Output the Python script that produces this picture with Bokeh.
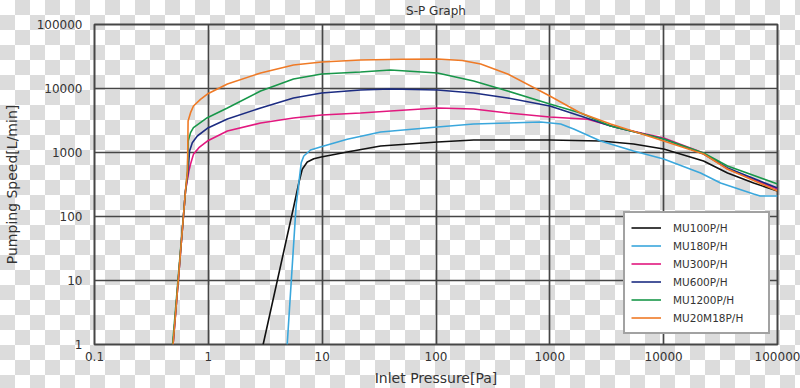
from bokeh.plotting import figure
from bokeh.models import FixedTicker, PrintfTickFormatter, Legend, LegendItem, LogAxis
from bokeh.embed import file_html
from bokeh.resources import INLINE

# ---- data ----
title_text = "S-P Graph"
x_ticks = [0.1, 1, 10, 100, 1000, 10000, 100000]
y_ticks = [1, 10, 100, 1000, 10000, 100000]

mu100_p = [3.03, 5.64, 6.24, 6.68, 7.40, 8.45, 9.8, 16.6, 32.6, 103, 214, 426, 1000, 2790, 5440, 10000, 22400, 36400, 61700, 100000]
mu100_s = [1, 146, 337, 546, 711, 800, 851, 1018, 1265, 1460, 1570, 1570, 1570, 1510, 1360, 1135, 736, 479, 334, 250]

mu180_p = [4.93, 5.9, 6.24, 6.55, 6.90, 7.9, 9.8, 16.6, 32.6, 103, 214, 426, 832, 1245, 1620, 2790, 5440, 10000, 21100, 31600, 61700, 70500, 100000]
mu180_s = [1, 146, 337, 694, 881, 1094, 1233, 1607, 2090, 2500, 2790, 2890, 3000, 2790, 2330, 1510, 1055, 790, 479, 334, 225, 209, 209]

mu300_p = [0.49, 0.63, 0.675, 0.698, 0.74, 0.826, 0.98, 1.47, 2.88, 5.6, 9.9, 21.7, 39.8, 103, 214, 426, 1000, 2150, 3940, 10000, 22400, 36400, 100000]
mu300_s = [1, 250, 515, 660, 935, 1190, 1510, 2170, 2890, 3460, 3850, 4140, 4450, 4960, 4790, 4140, 3590, 3300, 2440, 1690, 980, 552, 269]

mu600_p = [0.49, 0.63, 0.665, 0.684, 0.723, 0.80, 0.98, 1.47, 2.88, 5.6, 9.9, 21.7, 39.8, 103, 214, 426, 1000, 1860, 3420, 10000, 22400, 36400, 100000]
mu600_s = [1, 250, 515, 1055, 1420, 1810, 2390, 3340, 4960, 7110, 8510, 9480, 9820, 9480, 8510, 7110, 5330, 3720, 2600, 1625, 948, 573, 279]

mu1200_p = [0.485, 0.63, 0.656, 0.665, 0.698, 0.74, 0.98, 1.47, 2.88, 5.6, 9.9, 21.7, 39.8, 103, 214, 426, 1000, 1860, 3420, 10000, 22400, 36400, 100000]
mu1200_s = [1, 250, 515, 1510, 2045, 2445, 3500, 4960, 9140, 14060, 16870, 18100, 19450, 17470, 13100, 9140, 5730, 4140, 2600, 1625, 980, 615, 322]

mu20m_p = [0.49, 0.63, 0.656, 0.664, 0.698, 0.74, 0.853, 0.98, 1.47, 2.88, 5.6, 9.9, 21.7, 50, 103, 170, 247, 426, 1000, 1860, 3420, 10000, 22400, 36400, 100000]
mu20m_s = [1, 250, 515, 3100, 4190, 5330, 6780, 8200, 11750, 17470, 23300, 25900, 27900, 28600, 28900, 27400, 24150, 16870, 7640, 4140, 2790, 1510, 948, 552, 250]

series_names = ["MU100P/H", "MU180P/H", "MU300P/H", "MU600P/H", "MU1200P/H", "MU20M18P/H"]
series_colors = ["#111111", "#3aa7dc", "#e2187f", "#1c2c82", "#18974a", "#ef7a26"]
series_data = [(mu100_p, mu100_s), (mu180_p, mu180_s), (mu300_p, mu300_s),
               (mu600_p, mu600_s), (mu1200_p, mu1200_s), (mu20m_p, mu20m_s)]

FONT = "DejaVu Sans"
GRID = "#464646"

p = figure(width=800, height=388, x_axis_type="log", y_axis_type="log",
           x_range=(0.1, 100000), y_range=(1, 100000),
           output_backend="svg", toolbar_location=None,
           min_border_left=94, min_border_right=23, min_border_top=24, min_border_bottom=44)

p.background_fill_alpha = 0
p.border_fill_alpha = 0
p.styles = {
    "background-color": "#ffffff",
    "background-image": "repeating-conic-gradient(#dcdcdc 0% 25%, #ffffff 0% 50%)",
    "background-size": "30px 30px",
    "background-position": "0px 0px",
}
p.outline_line_color = GRID
p.outline_line_width = 2

x_axis = p.below[0]
y_axis = p.left[0]

for ax, ticks in ((x_axis, x_ticks), (y_axis, y_ticks)):
    ax.ticker = FixedTicker(ticks=ticks)
    ax.formatter = PrintfTickFormatter(format="%g")
    ax.axis_line_color = None
    ax.major_tick_line_color = None
    ax.minor_tick_line_color = None
    ax.major_tick_out = 0
    ax.major_tick_in = 0
    ax.major_label_text_font = FONT
    ax.major_label_text_font_size = "12px"
    ax.major_label_text_color = "#333333"
    ax.axis_label_text_font = FONT
    ax.axis_label_text_font_size = "14px"
    ax.axis_label_text_font_style = "normal"
    ax.axis_label_text_color = "#333333"

x_axis.axis_label = "Inlet Pressure[Pa]"
y_axis.axis_label = "Pumping Speed[L/min]"
x_axis.major_label_standoff = 7
x_axis.axis_label_standoff = 6
y_axis.major_label_standoff = 12
y_axis.axis_label_standoff = 14

# chart title, drawn as the label of a tick-less axis above the frame
top_axis = LogAxis(ticker=FixedTicker(ticks=[]), axis_label=title_text,
                   axis_line_color=None, major_tick_line_color=None, minor_tick_line_color=None,
                   major_tick_out=0, major_tick_in=0, major_label_standoff=0,
                   axis_label_standoff=7, axis_label_text_font=FONT,
                   axis_label_text_font_size="12px", axis_label_text_font_style="normal",
                   axis_label_text_color="#333333")
p.add_layout(top_axis, "above")

p.xgrid[0].ticker = FixedTicker(ticks=x_ticks)
p.ygrid[0].ticker = FixedTicker(ticks=y_ticks)
for g in (p.xgrid[0], p.ygrid[0]):
    g.grid_line_color = GRID
    g.grid_line_width = 1.7
    g.minor_grid_line_color = None

items = []
for name, color, (px, sy) in zip(series_names, series_colors, series_data):
    r = p.line(px, sy, line_color=color, line_width=1.6)
    items.append(LegendItem(label=name, renderers=[r]))

legend = Legend(items=items, location=(529, 10), margin=0, padding=6, spacing=1,
                label_height=17, glyph_height=17, glyph_width=30, label_standoff=12,
                label_width=89,
                label_text_font=FONT, label_text_font_size="10.5px", label_text_color="#333333",
                border_line_color=GRID, border_line_width=2,
                background_fill_color="#ffffff", background_fill_alpha=1)
p.add_layout(legend)

open("out.html", "w").write(file_html(p, INLINE))
